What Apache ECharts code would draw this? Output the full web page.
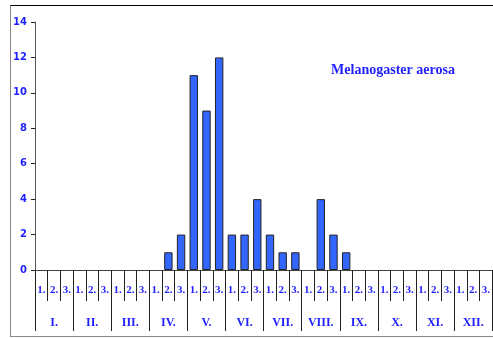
<!DOCTYPE html>
<html>
<head>
<meta charset="utf-8">
<script src="https://cdn.jsdelivr.net/npm/echarts@6/dist/echarts.min.js"></script>
<style>
  html, body { margin: 0; padding: 0; background: #fff; }
  #chart { position: absolute; left: 0; top: 0; width: 493px; height: 338px; }
  #frame {
    position: absolute; left: 10px; top: 5px; width: 490px; height: 330px;
    border-top: 1px solid #000; border-left: 1px solid #888; border-bottom: 1px solid #888;
    pointer-events: none;
  }
</style>
</head>
<body>
<div id="chart"></div>
<div id="frame"></div>
<script>
const decades = [];
const months = ['I.', 'II.', 'III.', 'IV.', 'V.', 'VI.', 'VII.', 'VIII.', 'IX.', 'X.', 'XI.', 'XII.'];
const decadeNames = ['1.', '2.', '3.'];
const counts = [
  0, 0, 0,   // I
  0, 0, 0,   // II
  0, 0, 0,   // III
  0, 1, 2,   // IV
  11, 9, 12, // V
  2, 2, 4,   // VI
  2, 1, 1,   // VII
  0, 4, 2,   // VIII
  1, 0, 0,   // IX
  0, 0, 0,   // X
  0, 0, 0,   // XI
  0, 0, 0    // XII
];
const yTicks = [0, 2, 4, 6, 8, 10, 12, 14];
const speciesName = 'Melanogaster aerosa';

months.forEach(function (m) {
  decadeNames.forEach(function (d) { decades.push(m + d); });
});

const blue = '#1f1fff';
const chart = echarts.init(document.getElementById('chart'));

// zero counts get no outline so they don't show as a flat line
const barData = counts.map(function (v) {
  return v === 0 ? { value: v, itemStyle: { borderWidth: 0 } } : v;
});

const option = {
  animation: false,
  title: {
    text: speciesName,
    left: 388,
    top: 58,
    textAlign: 'center',
    textStyle: { color: blue, fontFamily: 'Liberation Serif', fontWeight: 'bold', fontSize: 14 }
  },
  grid: { left: 35, right: -1, top: 22, bottom: 68 },
  xAxis: [
    {
      type: 'category',
      data: decades,
      position: 'bottom',
      boundaryGap: true,
      axisLine: { show: true, lineStyle: { color: '#444', width: 1 } },
      axisTick: { show: true, interval: 0, length: 31, lineStyle: { color: '#222', width: 1 } },
      axisLabel: {
        interval: 0,
        margin: 15,
        color: blue,
        fontFamily: 'Liberation Serif',
        fontWeight: 'bold',
        fontSize: 11,
        formatter: function (v) { return v.slice(v.length - 2); }
      },
      splitLine: { show: false }
    },
    {
      type: 'category',
      data: months,
      position: 'bottom',
      boundaryGap: true,
      axisLine: { show: true, lineStyle: { color: '#444', width: 1 } },
      axisTick: { show: true, interval: 0, length: 61, lineStyle: { color: '#222', width: 1 } },
      axisLabel: {
        interval: 0,
        margin: 47,
        color: blue,
        fontFamily: 'Liberation Serif',
        fontWeight: 'bold',
        fontSize: 12
      },
      splitLine: { show: false }
    }
  ],
  yAxis: {
    type: 'value',
    min: yTicks[0],
    max: yTicks[yTicks.length - 1],
    interval: 2,
    axisLine: { show: true, lineStyle: { color: '#555' } },
    axisTick: { show: true, length: 4, lineStyle: { color: '#222' } },
    axisLabel: {
      margin: 8,
      color: blue,
      fontFamily: 'DejaVu Sans',
      fontWeight: 'bold',
      fontSize: 10
    },
    splitLine: { show: false }
  },
  series: [
    {
      type: 'bar',
      xAxisIndex: 0,
      data: barData,
      barWidth: '66%',
      itemStyle: { color: '#3366ff', borderColor: '#222', borderWidth: 1 }
    }
  ]
};

chart.setOption(option);
</script>
</body>
</html>
